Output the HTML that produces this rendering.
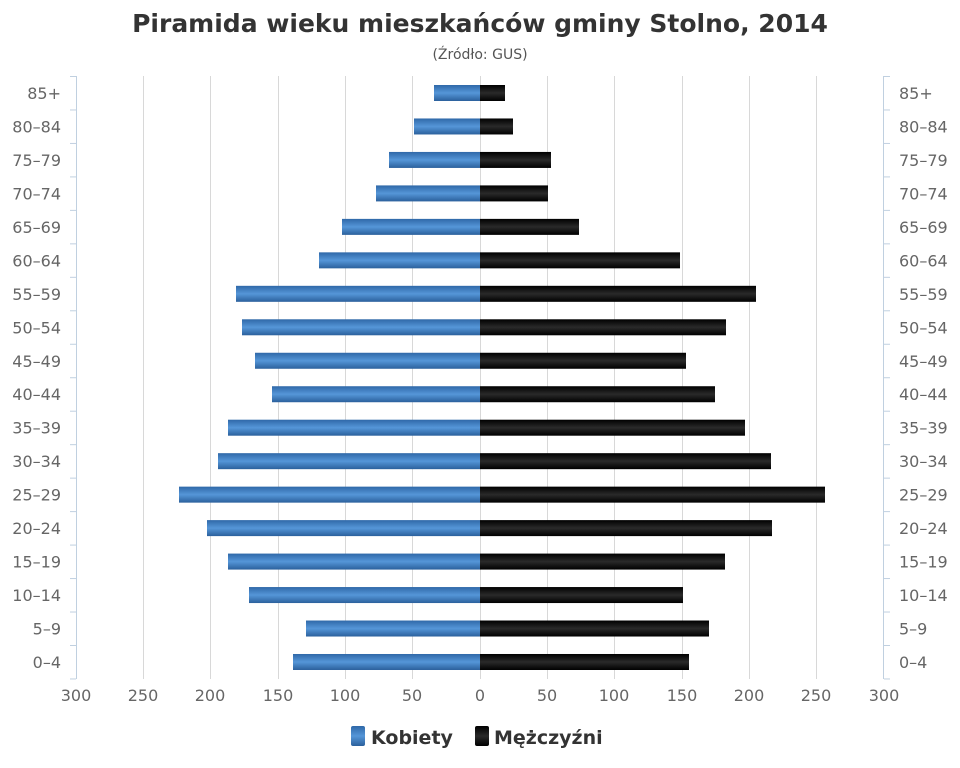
<!DOCTYPE html><html><head><meta charset="utf-8"><style>body{margin:0;background:#fff}svg{display:block}text{font-family:"DejaVu Sans","Liberation Sans",sans-serif}</style></head><body>
<svg width="960" height="768" xmlns="http://www.w3.org/2000/svg">
<defs>
<linearGradient id="b" x1="0" y1="0" x2="0" y2="1"><stop offset="0" stop-color="#2f68a8"/><stop offset="0.5" stop-color="#5596d8"/><stop offset="1" stop-color="#2b609c"/></linearGradient>
<linearGradient id="k" x1="0" y1="0" x2="0" y2="1"><stop offset="0" stop-color="#000"/><stop offset="0.5" stop-color="#2a2a2a"/><stop offset="1" stop-color="#000"/></linearGradient>
</defs>
<text x="480" y="32" text-anchor="middle" font-size="25" font-weight="bold" fill="#333">Piramida wieku mieszkańców gminy Stolno, 2014</text>
<text x="480" y="59" text-anchor="middle" font-size="14" fill="#555">(Źródło: GUS)</text>
<g stroke="#d8d8d8" stroke-width="1">
<line x1="143.5" y1="76" x2="143.5" y2="679"/><line x1="210.5" y1="76" x2="210.5" y2="679"/><line x1="278.5" y1="76" x2="278.5" y2="679"/><line x1="345.5" y1="76" x2="345.5" y2="679"/><line x1="412.5" y1="76" x2="412.5" y2="679"/><line x1="480.5" y1="76" x2="480.5" y2="679"/><line x1="547.5" y1="76" x2="547.5" y2="679"/><line x1="614.5" y1="76" x2="614.5" y2="679"/><line x1="682.5" y1="76" x2="682.5" y2="679"/><line x1="749.5" y1="76" x2="749.5" y2="679"/><line x1="816.5" y1="76" x2="816.5" y2="679"/>
</g>
<g stroke="#c0d0e0" stroke-width="1" id="ax"></g>
<g id="g"></g>
<g font-size="16" fill="#666" text-anchor="middle">
<text x="76" y="701">300</text><text x="143" y="701">250</text><text x="210" y="701">200</text><text x="278" y="701">150</text><text x="345" y="701">100</text><text x="412" y="701">50</text><text x="480" y="701">0</text><text x="547" y="701">50</text><text x="614" y="701">100</text><text x="682" y="701">150</text><text x="749" y="701">200</text><text x="816" y="701">250</text><text x="884" y="701">300</text>
</g>
<rect x="351" y="726" width="14" height="20" fill="url(#b)" rx="2"/>
<text x="371" y="744" font-size="19" font-weight="bold" fill="#333">Kobiety</text>
<rect x="475" y="726" width="14" height="20" fill="url(#k)" rx="2"/>
<text x="494" y="744" font-size="19" font-weight="bold" fill="#333">Mężczyźni</text>
<script>
var labs=["85+","80-84","75-79","70-74","65-69","60-64","55-59","50-54","45-49","40-44","35-39","30-34","25-29","20-24","15-19","10-14","5-9","0-4"];
var L=[434,414,389,376,342,319,236,242,255,272,228,218,179,207,228,249,306,293];
var R=[505,513,551,548,579,680,756,726,686,715,745,771,825,772,725,683,709,689];
var ns="http://www.w3.org/2000/svg",g=document.getElementById("g"),ax=document.getElementById("ax");
function el(p,t,a,tx){var e=document.createElementNS(ns,t);for(var k in a)e.setAttribute(k,a[k]);if(tx)e.textContent=tx;p.appendChild(e);}
el(ax,"line",{x1:76.5,y1:76,x2:76.5,y2:679});el(ax,"line",{x1:883.5,y1:76,x2:883.5,y2:679});
for(var i=0;i<=18;i++){var y=76.5+i*33.47;el(ax,"line",{x1:70,y1:y,x2:76,y2:y});el(ax,"line",{x1:884,y1:y,x2:890,y2:y});}
for(var i=0;i<18;i++){var y=93+i*33.47;
el(g,"rect",{x:L[i],y:y-8,width:480-L[i],height:16,fill:"url(#b)"});
el(g,"rect",{x:480,y:y-8,width:R[i]-480,height:16,fill:"url(#k)"});
el(g,"text",{x:61,y:y+6,"text-anchor":"end","font-size":16,fill:"#666"},labs[i].replace("-","–"));
el(g,"text",{x:899,y:y+6,"font-size":16,fill:"#666"},labs[i].replace("-","–"));}
</script>
</svg></body></html>
